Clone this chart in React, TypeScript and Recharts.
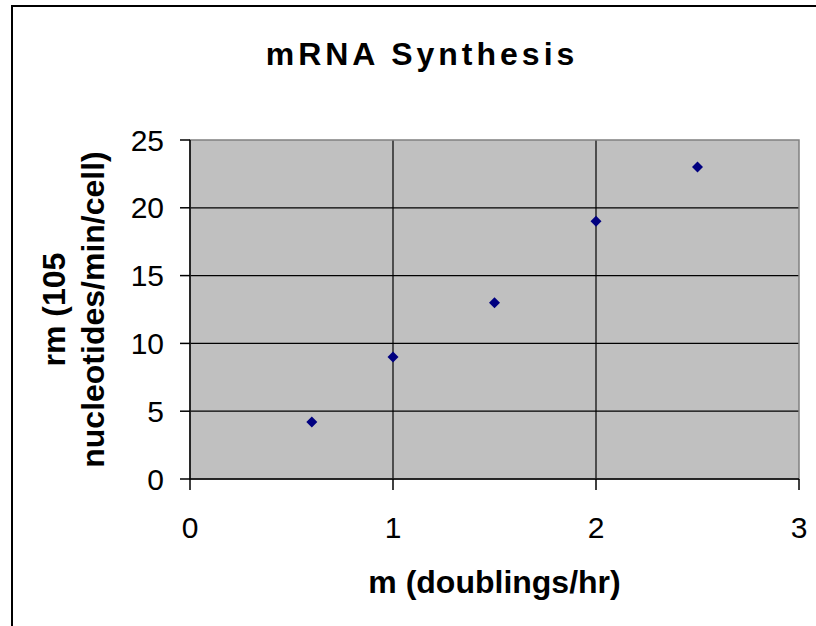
import { ScatterChart, Scatter, XAxis, YAxis, CartesianGrid, ReferenceArea } from 'recharts';

const growthRates = [0.6, 1, 1.5, 2, 2.5];
const synthesisRates = [4.2, 9, 13, 19, 23];
const xTicks = [0, 1, 2, 3];
const yTicks = [0, 5, 10, 15, 20, 25];
const xGridValues = [1, 2];
const yGridValues = [5, 10, 15, 20];

const points = growthRates.map((m, i) => ({ m, rm: synthesisRates[i] }));

const font = '"Liberation Sans", Arial, sans-serif';

const Diamond = (props: any) => {
  const { cx, cy } = props;
  const r = 5.5;
  return (
    <polygon
      points={`${cx},${cy - r} ${cx + r},${cy} ${cx},${cy + r} ${cx - r},${cy}`}
      fill="#000080"
    />
  );
};

const YTitle = (props: any) => {
  const { viewBox } = props;
  const cy = viewBox.y + viewBox.height / 2;
  const cx = 74;
  return (
    <text
      transform={`rotate(-90, ${cx}, ${cy})`}
      x={cx}
      y={cy}
      textAnchor="middle"
      fontFamily={font}
      fontWeight="bold"
      fontSize={32}
      fill="#000"
    >
      <tspan x={cx} dy={-9}>rm (105</tspan>
      <tspan x={cx} dy={39}>nucleotides/min/cell)</tspan>
    </text>
  );
};

const XTitle = (props: any) => {
  const { viewBox } = props;
  return (
    <text
      x={viewBox.x + viewBox.width / 2}
      y={viewBox.y + 114}
      textAnchor="middle"
      fontFamily={font}
      fontWeight="bold"
      fontSize={32}
      fill="#000"
    >
      m (doublings/hr)
    </text>
  );
};

export default function App() {
  return (
    <div style={{ position: 'fixed', left: 0, top: 0, width: 816, height: 626, overflow: 'hidden', background: '#fff' }}>
      <div
        style={{
          position: 'absolute', left: 11, top: 5, width: 900, height: 700,
          border: '2px solid #000', boxSizing: 'border-box',
        }}
      />
      <div
        style={{
          position: 'absolute', left: 0, top: 38, width: 844, textAlign: 'center',
          fontFamily: font, fontWeight: 'bold', fontSize: 32, lineHeight: '32px',
          letterSpacing: 4, color: '#000',
        }}
      >
        mRNA Synthesis
      </div>
      <div style={{ position: 'absolute', left: 0, top: 0 }}>
        <ScatterChart width={816} height={626} margin={{ top: 140, right: 17, bottom: 87, left: 110 }}>
          <CartesianGrid
            fill="#c0c0c0"
            stroke="#000"
            strokeWidth={1.2}
            horizontalValues={yGridValues}
            verticalValues={xGridValues}
          />
          <ReferenceArea x1={0} x2={3} y1={0} y2={25} fill="none" stroke="#808080" strokeWidth={1.5} />
          <XAxis
            type="number"
            dataKey="m"
            domain={[0, 3]}
            ticks={xTicks}
            height={60}
            tickSize={11}
            tickMargin={27}
            axisLine={{ stroke: '#000', strokeWidth: 1.5 }}
            tickLine={{ stroke: '#000', strokeWidth: 1.5 }}
            tick={{ fill: '#000', fontSize: 30, fontFamily: font }}
            label={{ content: XTitle }}
          />
          <YAxis
            type="number"
            dataKey="rm"
            domain={[0, 25]}
            ticks={yTicks}
            width={80}
            tickSize={10}
            tickMargin={16}
            axisLine={{ stroke: '#000', strokeWidth: 1.5 }}
            tickLine={{ stroke: '#000', strokeWidth: 1.5 }}
            tick={{ fill: '#000', fontSize: 30, fontFamily: font }}
            label={{ content: YTitle }}
          />
          <Scatter data={points} shape={Diamond} isAnimationActive={false} />
        </ScatterChart>
      </div>
    </div>
  );
}
